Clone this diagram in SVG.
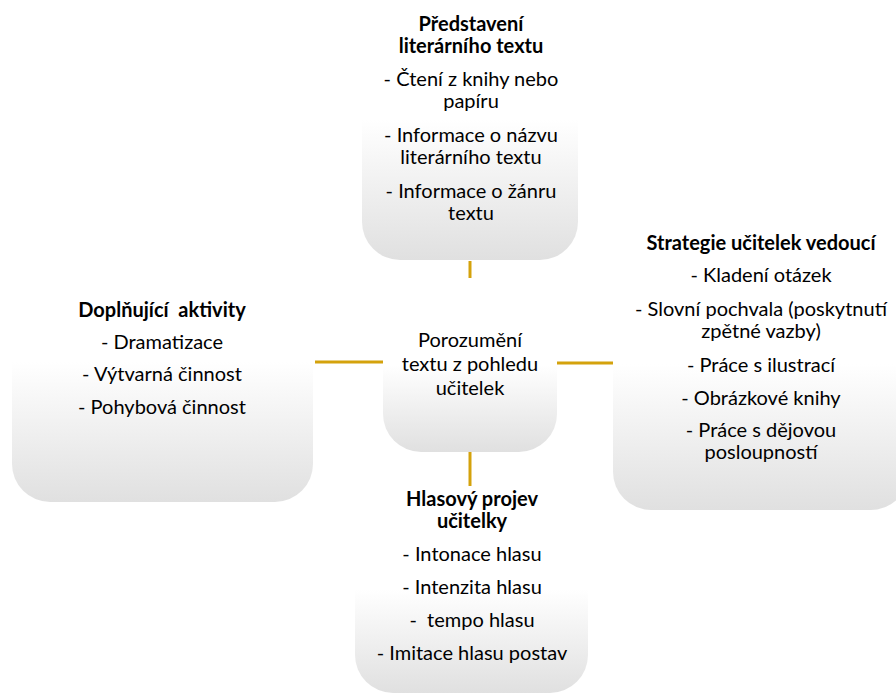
<svg xmlns="http://www.w3.org/2000/svg" width="896" height="695" viewBox="0 0 896 695">
<defs>
<linearGradient id="g" x1="0" y1="0" x2="0" y2="1">
<stop offset="0" stop-color="#ffffff"/>
<stop offset="0.5" stop-color="#ffffff"/>
<stop offset="1" stop-color="#e0e0e0"/>
</linearGradient>
<style>
.box{fill:url(#g);stroke:none}
text{font-family:Lato,"Liberation Sans",sans-serif;font-size:20px;fill:#000;text-anchor:middle}
.b{font-weight:bold}
.c{stroke:#d4a20c;stroke-width:3;fill:none}
</style>
</defs>
<rect width="896" height="695" fill="#fff"/>
<g id="connectors">
<line class="c" x1="315" y1="362" x2="383" y2="362"/>
<line class="c" x1="557" y1="363" x2="613" y2="363"/>
<line class="c" x1="470" y1="261" x2="470" y2="278"/>
<line class="c" x1="470" y1="452" x2="470" y2="486"/>
</g>
<g id="top">
<rect class="box" x="362" y="-20" width="216" height="280" rx="38"/>
<text class="b" x="471" y="31">Představení</text>
<text class="b" x="471" y="53">literárního textu</text>
<text x="471" y="86">- Čtení z knihy nebo</text>
<text x="471" y="108">papíru</text>
<text x="471" y="142">- Informace o názvu</text>
<text x="471" y="164">literárního textu</text>
<text x="471" y="198">- Informace o žánru</text>
<text x="471" y="220">textu</text>
</g>
<g id="center">
<rect class="box" x="383" y="278" width="174" height="174" rx="38"/>
<text x="470" y="347">Porozumění</text>
<text x="470" y="371">textu z pohledu</text>
<text x="470" y="395">učitelek</text>
</g>
<g id="left">
<rect class="box" x="12" y="222" width="301" height="280" rx="38"/>
<text class="b" x="162" y="317" xml:space="preserve">Doplňující  aktivity</text>
<text x="162" y="349">- Dramatizace</text>
<text x="162" y="381">- Výtvarná činnost</text>
<text x="162" y="414">- Pohybová činnost</text>
</g>
<g id="right">
<rect class="box" x="613" y="218" width="296" height="292" rx="38"/>
<text class="b" x="761" y="250">Strategie učitelek vedoucí</text>
<text x="761" y="282">- Kladení otázek</text>
<text x="761" y="316">- Slovní pochvala (poskytnutí</text>
<text x="761" y="338">zpětné vazby)</text>
<text x="761" y="372">- Práce s ilustrací</text>
<text x="761" y="405">- Obrázkové knihy</text>
<text x="761" y="437">- Práce s dějovou</text>
<text x="761" y="459">posloupností</text>
</g>
<g id="bottom">
<rect class="box" x="355" y="486" width="233" height="207" rx="38"/>
<text class="b" x="472" y="506">Hlasový projev</text>
<text class="b" x="472" y="528">učitelky</text>
<text x="472" y="561">- Intonace hlasu</text>
<text x="472" y="594">- Intenzita hlasu</text>
<text x="472" y="627" xml:space="preserve">-  tempo hlasu</text>
<text x="472" y="660">- Imitace hlasu postav</text>
</g>
</svg>
